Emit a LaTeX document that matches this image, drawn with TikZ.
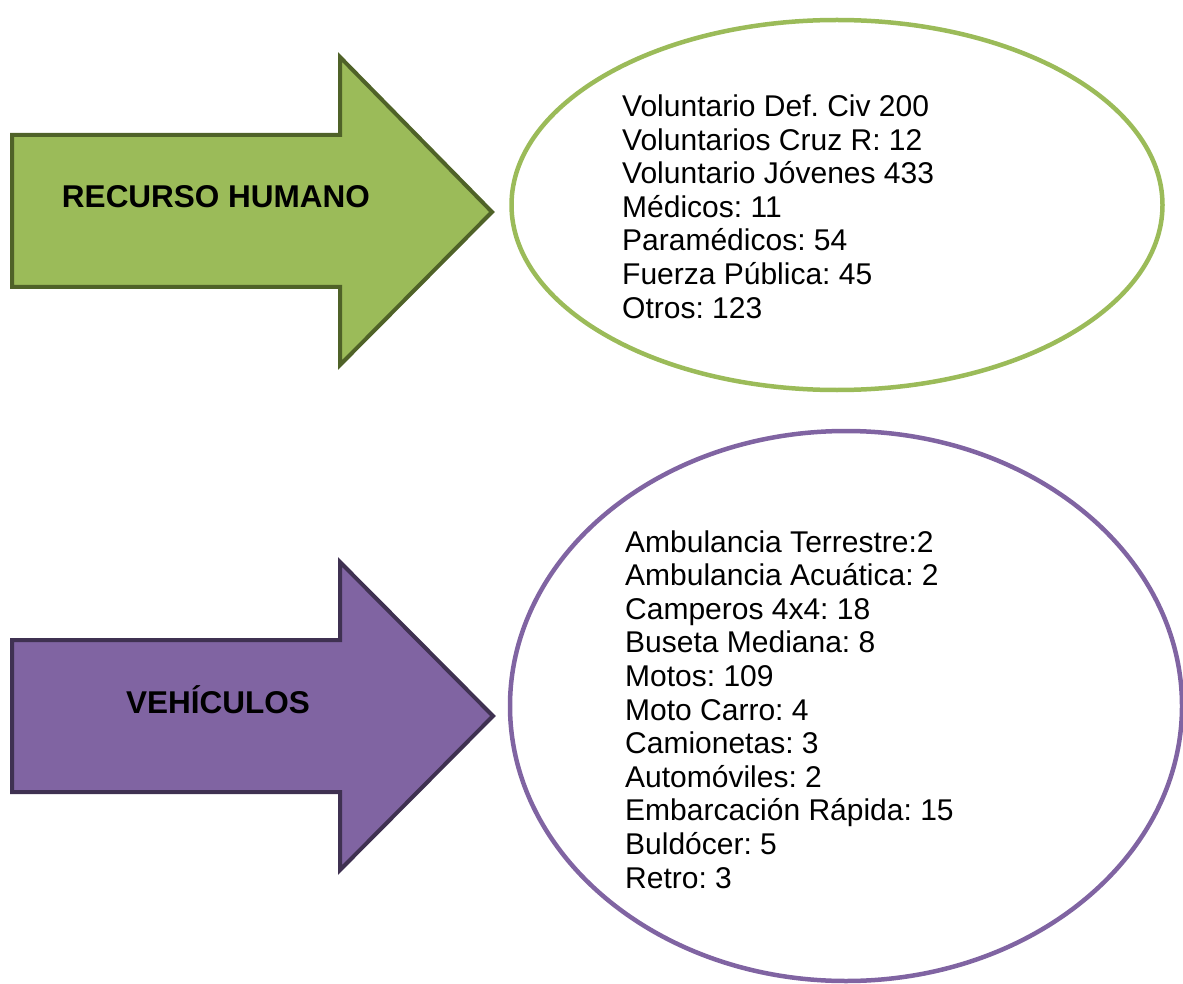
\documentclass[tikz,border=0pt]{standalone}
\usepackage{fontspec}
\setmainfont{Liberation Sans}
\usepackage{xcolor}
\usetikzlibrary{shapes.geometric}
\definecolor{humfill}{HTML}{9BBB59}
\definecolor{humline}{HTML}{4F6228}
\definecolor{vehfill}{HTML}{8064A2}
\definecolor{vehline}{HTML}{3F3151}
\frenchspacing
\begin{document}
\begin{tikzpicture}[x=1pt, y=-1pt,
    bigarrow/.style={line width=4pt, line join=miter},
    arrowtitle/.style={font=\fontsize{31.5}{36}\selectfont\bfseries, anchor=base, inner sep=0pt},
    itemline/.style={font=\fontsize{30}{33.5}\selectfont, anchor=base west, inner sep=0pt},
    oval/.style={ellipse, line width=4.5pt, inner sep=0pt, outer sep=0pt}]
    \useasboundingbox (0,0) rectangle (1183,984);
    \clip (0,0) rectangle (1183,984);

    % Recurso humano
    \draw [bigarrow, fill=humfill, draw=humline] (12,135) -- (340,135) -- (340,57) -- (492,212) -- (340,365) -- (340,287) -- (12,287) -- cycle;
    \node [arrowtitle] (humTitle) at (216,208) {RECURSO HUMANO};
    \node [oval, draw=humfill, minimum width=651pt, minimum height=370pt] (humOval) at (837,205) {};
    \foreach \txt [count=\i from 0] in {Voluntario Def. Civ 200, Voluntarios Cruz R: 12, Voluntario Jóvenes 433, Médicos: 11, Paramédicos: 54, Fuerza Pública: 45, Otros: 123}
        \node [itemline] (hum\i) at (622,117+33.5*\i) {\txt};

    % Vehiculos
    \draw [bigarrow, fill=vehfill, draw=vehline] (12,640) -- (340,640) -- (340,562) -- (493,716) -- (340,870) -- (340,792) -- (12,792) -- cycle;
    \node [arrowtitle] (vehTitle) at (218,713) {VEHÍCULOS};
    \node [oval, draw=vehfill, minimum width=672pt, minimum height=550pt] (vehOval) at (846,706) {};
    \foreach \txt [count=\i from 0] in {Ambulancia Terrestre:2, Ambulancia Acuática: 2, Camperos 4x4: 18, Buseta Mediana: 8, Motos: 109, Moto Carro: 4, Camionetas: 3, Automóviles: 2, Embarcación Rápida: 15, Buldócer: 5, Retro: 3}
        \node [itemline] (veh\i) at (625,552+33.6*\i) {\txt};
\end{tikzpicture}
\end{document}
